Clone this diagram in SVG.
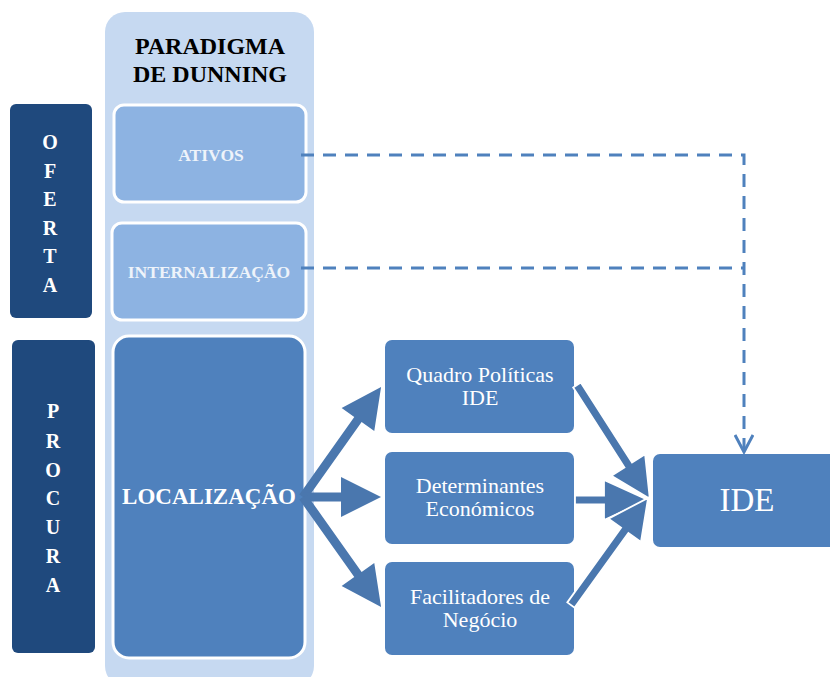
<svg xmlns="http://www.w3.org/2000/svg" width="830" height="677" viewBox="0 0 830 677" font-family="'Liberation Serif', 'Times New Roman', serif">
  <style>
    text { font-family: "Liberation Serif", "Times New Roman", serif; }
    .band { fill: #1f497d; }
    .band-t { fill: #ffffff; font-size: 20px; font-weight: bold; text-anchor: middle; }
    .pale { fill: #8db3e2; stroke: #ffffff; stroke-width: 3; }
    .pale-t { fill: #eef3fa; font-size: 17.5px; font-weight: bold; text-anchor: middle; }
    .mid { fill: #4f81bd; }
    .mid-t { fill: #ffffff; font-size: 22px; text-anchor: middle; }
    .arrow { fill: #4a77ae; }
    .arrow-in { fill: #4a77ae; stroke: #ffffff; stroke-width: 1.8; stroke-linejoin: miter; }
    .dash { fill: none; stroke: #4f81bd; stroke-width: 3; stroke-dasharray: 13 9; }
  </style>
  <defs>
    <marker id="open-head" viewBox="0 0 20 20" refX="18" refY="10" markerWidth="20" markerHeight="20" markerUnits="userSpaceOnUse" orient="auto">
      <polyline points="1,1 18,10 1,19" fill="none" stroke="#4f81bd" stroke-width="3"/>
    </marker>
  </defs>

  <!-- Dunning paradigm column -->
  <g id="paradigm">
    <rect x="105" y="12" width="209" height="674" rx="20" fill="#c6d9f1"/>
    <text x="210" y="54" font-size="24" font-weight="bold" text-anchor="middle" fill="#000000">PARADIGMA</text>
    <text x="210" y="82" font-size="24" font-weight="bold" text-anchor="middle" fill="#000000">DE DUNNING</text>
  </g>

  <!-- Supply side band -->
  <g id="oferta">
    <rect class="band" x="10" y="104" width="82" height="214" rx="6"/>
    <text class="band-t" x="50" y="149">O</text>
    <text class="band-t" x="50" y="178">F</text>
    <text class="band-t" x="50" y="206">E</text>
    <text class="band-t" x="50" y="235">R</text>
    <text class="band-t" x="50" y="263">T</text>
    <text class="band-t" x="50" y="292">A</text>
  </g>

  <!-- Demand side band -->
  <g id="procura">
    <rect class="band" x="12" y="340" width="83" height="313" rx="6"/>
    <text class="band-t" x="53" y="418">P</text>
    <text class="band-t" x="53" y="448">R</text>
    <text class="band-t" x="53" y="477">O</text>
    <text class="band-t" x="53" y="505">C</text>
    <text class="band-t" x="53" y="534">U</text>
    <text class="band-t" x="53" y="563">R</text>
    <text class="band-t" x="53" y="592">A</text>
  </g>

  <g id="ativos">
    <rect class="pale" x="114" y="105" width="192" height="97" rx="10"/>
    <text class="pale-t" x="211" y="161">ATIVOS</text>
  </g>

  <g id="internalizacao">
    <rect class="pale" x="112" y="223" width="194" height="97" rx="10"/>
    <text class="pale-t" x="209" y="278">INTERNALIZAÇÃO</text>
  </g>

  <g id="localizacao">
    <rect x="113" y="336" width="192" height="322" rx="16" fill="#4f81bd" stroke="#ffffff" stroke-width="3"/>
    <text x="209" y="504" font-size="23" font-weight="bold" text-anchor="middle" fill="#ffffff">LOCALIZAÇÃO</text>
  </g>

  <g id="quadro">
    <rect class="mid" x="385" y="340" width="189" height="93" rx="7"/>
    <text class="mid-t" x="480" y="382">Quadro Políticas</text>
    <text class="mid-t" x="480" y="405">IDE</text>
  </g>

  <g id="determinantes">
    <rect class="mid" x="385" y="452" width="189" height="92" rx="7"/>
    <text class="mid-t" x="480" y="493">Determinantes</text>
    <text class="mid-t" x="480" y="516">Económicos</text>
  </g>

  <g id="facilitadores">
    <rect class="mid" x="385" y="562" width="189" height="93" rx="7"/>
    <text class="mid-t" x="480" y="604">Facilitadores de</text>
    <text class="mid-t" x="480" y="627">Negócio</text>
  </g>

  <g id="ide">
    <rect class="mid" x="653" y="454" width="200" height="93" rx="7"/>
    <text x="747" y="511" font-size="33" text-anchor="middle" fill="#ffffff">IDE</text>
  </g>

  <!-- Connectors -->
  <g id="connectors">
    <!-- dashed links from ATIVOS and INTERNALIZAÇÃO down to IDE -->
    <path class="dash" d="M301,155 H744 V452" marker-end="url(#open-head)"/>
    <path class="dash" d="M301,268 H744"/>

    <!-- block arrows out of LOCALIZAÇÃO -->
    <path class="arrow" transform="translate(303,497) rotate(-54.66)" d="M0,-4.5 H95 V-20 L135,0 L95,20 V4.5 H0 Z"/>
    <path class="arrow" transform="translate(303,497)" d="M0,-4.5 H38 V-20 L78,0 L38,20 V4.5 H0 Z"/>
    <path class="arrow" transform="translate(303,497) rotate(54.66)" d="M0,-4.5 H95 V-20 L135,0 L95,20 V4.5 H0 Z"/>

    <!-- block arrows converging on IDE -->
    <path class="arrow-in" transform="translate(575,500)" d="M0,-4.5 H29 V-20 L73,0 L29,20 V4.5 H0 Z"/>
    <path class="arrow-in" transform="translate(577,385) rotate(57.36)" d="M0,-4.5 H95 V-20 L135,0 L95,20 V4.5 H0 Z"/>
    <path class="arrow-in" transform="translate(571,605) rotate(-54.26)" d="M0,-4.5 H92 V-20 L132,0 L92,20 V4.5 H0 Z"/>
  </g>
</svg>
